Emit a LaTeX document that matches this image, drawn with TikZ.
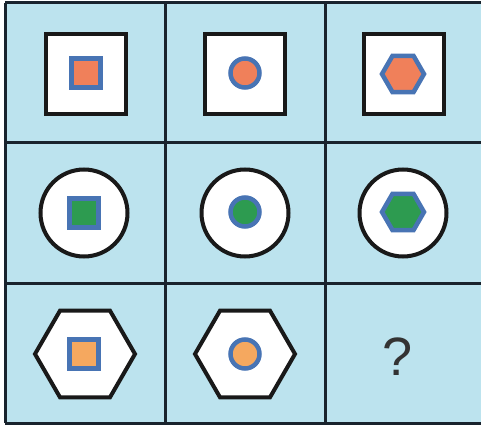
\documentclass[tikz,border=0pt]{standalone}
\usepackage{fontspec}
\setmainfont{Liberation Sans}
\usetikzlibrary{shapes.geometric}
\definecolor{bgblue}{RGB}{188,227,238}
\definecolor{gridc}{RGB}{25,35,45}
\definecolor{blueb}{RGB}{72,116,180}
\definecolor{orangeA}{RGB}{240,128,90}
\definecolor{orangeB}{RGB}{245,168,95}
\definecolor{greenc}{RGB}{45,155,80}
\begin{document}
\begin{tikzpicture}[x=1pt,y=-1pt,
  outershape/.style={draw=black!90, line width=4pt, fill=white, inner sep=0pt, outer sep=0pt},
  bigsq/.style={outershape, rectangle, minimum size=80pt},
  bigci/.style={outershape, circle, minimum size=87pt},
  bighex/.style={outershape, regular polygon, regular polygon sides=6, minimum size=100pt},
  innershape/.style={draw=blueb, line width=4.5pt, inner sep=0pt, outer sep=0pt},
  smsq/.style={innershape, rectangle, minimum size=29pt},
  smci/.style={innershape, circle, minimum size=29pt},
  smhex/.style={innershape, regular polygon, regular polygon sides=6, minimum size=42pt},
  gridline/.style={draw=gridc, line width=3pt}
]
\useasboundingbox (0,0) rectangle (481,427);
\fill[bgblue] (5,3) rectangle (485,423);
% grid
\coordinate (t1) at (5,3);   \coordinate (b1) at (5,423);
\coordinate (t2) at (165,3); \coordinate (b2) at (165,423);
\coordinate (t3) at (325,3); \coordinate (b3) at (325,423);
\coordinate (t4) at (485,3); \coordinate (b4) at (485,423);
\coordinate (l1) at (5,143); \coordinate (r1) at (485,143);
\coordinate (l2) at (5,283); \coordinate (r2) at (485,283);
\draw[gridline] (t1) -- (b1) (t2) -- (b2) (t3) -- (b3) (t4) -- (b4);
\draw[gridline] (t1) -- (t4) (l1) -- (r1) (l2) -- (r2) (b1) -- (b4);
% row 1
\node[bigsq] (o11) at (86,74) {};
\node[smsq, fill=orangeA] (i11) at (86,73) {};
\node[bigsq] (o12) at (245,74) {};
\node[smci, fill=orangeA] (i12) at (245,73) {};
\node[bigsq] (o13) at (404,74) {};
\node[smhex, fill=orangeA] (i13) at (403,74) {};
% row 2
\node[bigci] (o21) at (84,213) {};
\node[smsq, fill=greenc] (i21) at (84,213) {};
\node[bigci] (o22) at (245,213) {};
\node[smci, fill=greenc] (i22) at (245,212) {};
\node[bigci] (o23) at (403,213) {};
\node[smhex, fill=greenc] (i23) at (403,212) {};
% row 3
\node[bighex] (o31) at (85,354) {};
\node[smsq, fill=orangeB] (i31) at (84,354) {};
\node[bighex] (o32) at (245,354) {};
\node[smci, fill=orangeB] (i32) at (245,354) {};
\node[text=black!80, font=\fontsize{54}{60}\selectfont, inner sep=0pt] (q) at (398,357) {?};
\end{tikzpicture}
\end{document}
